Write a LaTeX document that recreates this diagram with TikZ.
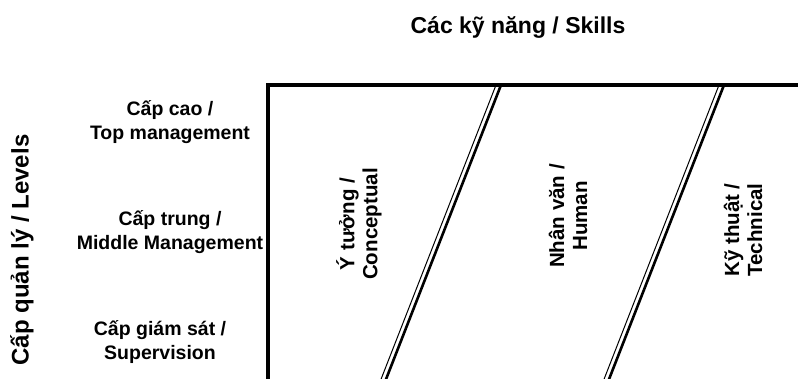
\documentclass[tikz,border=0pt]{standalone}
\usepackage{fontspec}
\setmainfont{Liberation Sans}
\usetikzlibrary{positioning}

\begin{document}
\begin{tikzpicture}[x=1pt, y=-1pt,
    level/.style={font=\bfseries\fontsize{19.5}{23.5}\selectfont, align=center, inner sep=0pt},
    skill/.style={font=\bfseries\fontsize{20.5}{23}\selectfont, align=center, rotate=90, inner sep=0pt},
    heading/.style={font=\bfseries\fontsize{23}{26}\selectfont, inner sep=0pt},
    frameline/.style={line width=3.2pt},
    divthick/.style={line width=2.6pt},
    divthin/.style={line width=1pt}]

\useasboundingbox (0,0) rectangle (798,378);
\clip (0,0) rectangle (798,378);

% Frame
\coordinate (corner) at (268,85);
\draw[frameline] (268,400) -- (corner) -- (820,85);

% Dividers (double lines)
\draw[divthick] (501,85) -- (386.5,378) -- ++(-8.6,22);
\draw[divthin] (496,85) -- (381.5,378) -- ++(-8.6,22);
\draw[divthick] (724,85) -- (609.5,378) -- ++(-8.6,22);
\draw[divthin] (719,85) -- (604.5,378) -- ++(-8.6,22);

% Headings
\node[heading, anchor=base] (skills) at (518,33) {Các kỹ năng / Skills};
\node[heading, rotate=90, font=\bfseries\fontsize{24}{26}\selectfont] (levels) at (22,250) {Cấp quản lý / Levels};

% Levels
\node[level] (top) at (170,122) {Cấp cao /\\Top management};
\node[level] (middle) at (170,232) {Cấp trung /\\Middle Management};
\node[level] (super) at (160,342) {Cấp giám sát /\\Supervision};

% Skills
\node[skill] (concept) at (359,224) {Ý tưởng /\\Conceptual};
\node[skill] (human) at (568,216) {Nhân văn /\\Human};
\node[skill] (tech) at (743,230) {Kỹ thuật /\\Technical};
\end{tikzpicture}
\end{document}
